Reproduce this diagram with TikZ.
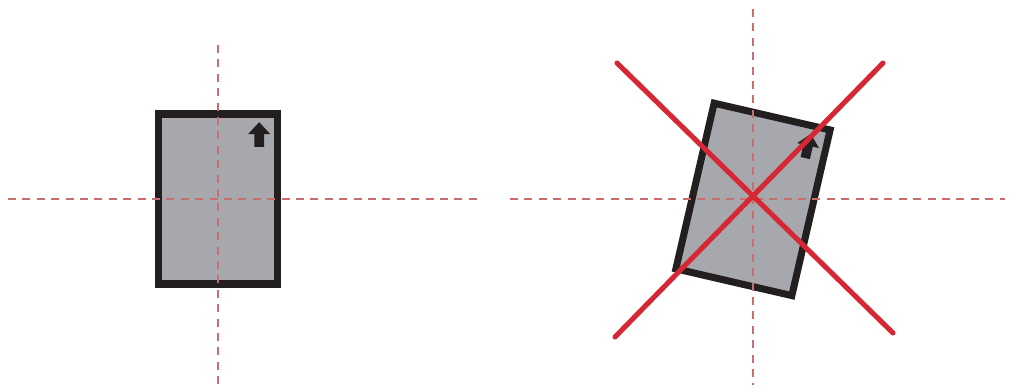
\documentclass[tikz,border=0pt]{standalone}
\usepackage{tikz}

\definecolor{cardgray}{RGB}{167,168,173}
\definecolor{cardedge}{RGB}{35,31,32}
\definecolor{guide}{RGB}{200,110,110}
\definecolor{cross}{RGB}{214,40,52}

\tikzset{
  card/.style={draw=cardedge, fill=cardgray, line width=5pt, inner sep=0pt,
    minimum width=2.975cm, minimum height=4.25cm},
  guideline/.style={guide, line width=1.3pt, dash pattern=on 0.2cm off 0.16cm},
  crossline/.style={cross, line width=3.6pt, line cap=round},
  cardarrow/.style={fill=cardedge}
}

\begin{document}
\begin{tikzpicture}
            \useasboundingbox (0,0) rectangle (25.275,9.675);
            % cards
            \node[card] (leftcard) at (5.44,4.7) {};
            \node[card, rotate=-13] (rightcard) at (18.825,4.69) {};
            \fill[cardarrow, shift={(leftcard.center)}] (1.04,1.92) -- (1.32,1.62) -- (1.16,1.62) -- (1.16,1.3) -- (0.92,1.3) -- (0.92,1.62) -- (0.76,1.62) -- cycle;
            \fill[cardarrow, shift={(rightcard.center)}, rotate=-13] (1.04,1.92) -- (1.32,1.62) -- (1.16,1.62) -- (1.16,1.3) -- (0.92,1.3) -- (0.92,1.62) -- (0.76,1.62) -- cycle;
            % guides
            \coordinate (lw) at (0.2,4.7);
            \coordinate (le) at (12,4.7);
            \coordinate (ln) at (5.45,8.55);
            \coordinate (ls) at (5.45,0.05);
            \coordinate (rw) at (12.75,4.69);
            \coordinate (re) at (25.125,4.69);
            \coordinate (rn) at (18.825,9.45);
            \coordinate (rs) at (18.825,0.05);
            \draw[guideline] (lw) -- (le);
            \draw[guideline] (ln) -- (ls);
            \draw[guideline] (rw) -- (re);
            \draw[guideline] (rn) -- (rs);
            % cross
            \coordinate (xnw) at (15.425,8.1);
            \coordinate (xse) at (22.325,1.35);
            \coordinate (xne) at (22.075,8.1);
            \coordinate (xsw) at (15.375,1.25);
            \draw[crossline] (xnw) -- (xse);
            \draw[crossline] (xne) -- (xsw);
        \end{tikzpicture}
\end{document}
